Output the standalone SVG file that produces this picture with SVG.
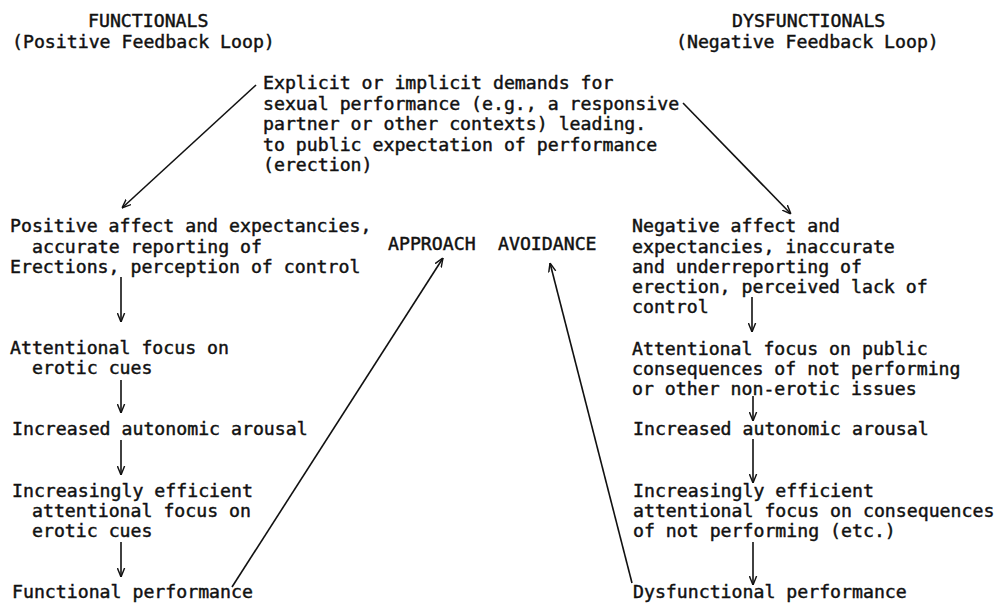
<svg xmlns="http://www.w3.org/2000/svg" width="999" height="604" viewBox="0 0 999 604">
<style>
text{font-family:"DejaVu Sans Mono","Liberation Mono",monospace;font-size:18.2px;fill:#111;stroke:#111;stroke-width:0.45px;}
.c line{stroke:#111;stroke-width:1.6;fill:none;marker-end:url(#ah);}
</style>
<defs>
<marker id="ah" viewBox="0 0 10 10" refX="10" refY="5" markerWidth="9" markerHeight="9" markerUnits="userSpaceOnUse" orient="auto">
<path d="M0,1 L10,5 L0,9" fill="none" stroke="#111" stroke-width="1.6"/>
</marker>
</defs>
<rect width="999" height="604" fill="#fff"/>
<g id="hdr-functionals">
<text x="88" y="27">FUNCTIONALS</text>
<text x="12" y="48">(Positive Feedback Loop)</text>
</g>
<g id="hdr-dysfunctionals">
<text x="732" y="27">DYSFUNCTIONALS</text>
<text x="676" y="48">(Negative Feedback Loop)</text>
</g>
<g id="demands">
<text x="263" y="89">Explicit or implicit demands for</text>
<text x="263" y="110">sexual performance (e.g., a responsive</text>
<text x="263" y="130">partner or other contexts) leading.</text>
<text x="263" y="151">to public expectation of performance</text>
<text x="263" y="171">(erection)</text>
</g>
<g id="approach"><text x="388" y="250">APPROACH</text></g>
<g id="avoidance"><text x="498" y="250">AVOIDANCE</text></g>
<g id="f1">
<text x="10" y="232">Positive affect and expectancies,</text>
<text x="32" y="253">accurate reporting of</text>
<text x="10" y="273">Erections, perception of control</text>
</g>
<g id="f2">
<text x="10" y="354">Attentional focus on</text>
<text x="32" y="374">erotic cues</text>
</g>
<g id="f3"><text x="12" y="435">Increased autonomic arousal</text></g>
<g id="f4">
<text x="12" y="497">Increasingly efficient</text>
<text x="32" y="517">attentional focus on</text>
<text x="32" y="537">erotic cues</text>
</g>
<g id="f5"><text x="12" y="598">Functional performance</text></g>
<g id="d1">
<text x="632" y="232">Negative affect and</text>
<text x="632" y="253">expectancies, inaccurate</text>
<text x="632" y="273">and underreporting of</text>
<text x="632" y="293">erection, perceived lack of</text>
<text x="632" y="313">control</text>
</g>
<g id="d2">
<text x="632" y="355">Attentional focus on public</text>
<text x="632" y="375">consequences of not performing</text>
<text x="632" y="395">or other non-erotic issues</text>
</g>
<g id="d3"><text x="633" y="435">Increased autonomic arousal</text></g>
<g id="d4">
<text x="633" y="497">Increasingly efficient</text>
<text x="633" y="517">attentional focus on consequences</text>
<text x="633" y="537">of not performing (etc.)</text>
</g>
<g id="d5"><text x="633" y="598">Dysfunctional performance</text></g>
<g id="connectors" class="c">
<line x1="256" y1="85" x2="122" y2="208"/>
<line x1="683" y1="103" x2="791" y2="214"/>
<line x1="121" y1="277" x2="121" y2="322"/>
<line x1="121" y1="380" x2="121" y2="413"/>
<line x1="121" y1="440" x2="121" y2="475"/>
<line x1="121" y1="542" x2="121" y2="577"/>
<line x1="752" y1="297" x2="752" y2="332"/>
<line x1="753" y1="396" x2="753" y2="421"/>
<line x1="753" y1="439" x2="753" y2="483"/>
<line x1="753" y1="542" x2="753" y2="585"/>
<line x1="232" y1="587" x2="443" y2="258"/>
<line x1="632" y1="583" x2="550" y2="263"/>
</g>
</svg>
